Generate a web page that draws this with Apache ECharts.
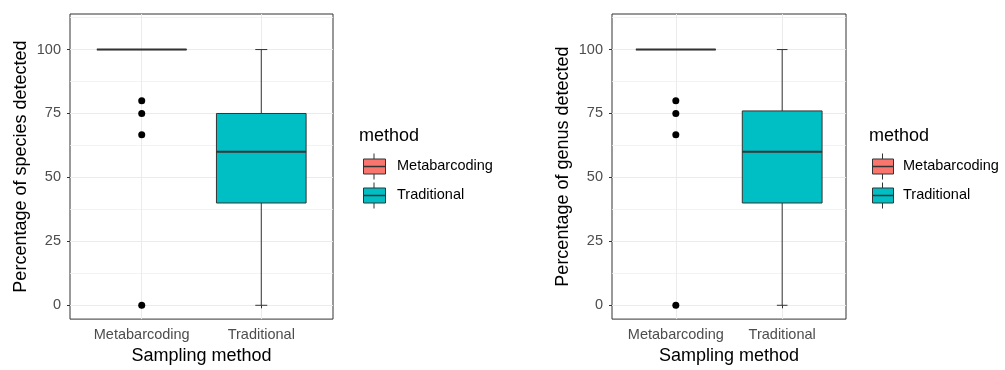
<!DOCTYPE html>
<html><head><meta charset="utf-8">
<script src="https://cdn.jsdelivr.net/npm/echarts@6/dist/echarts.min.js"></script>
<style>html,body{margin:0;padding:0;background:#fff}#c{width:1005px;height:370px}</style>
</head><body><div id="c"></div>
<script>
const categories = ['Metabarcoding', 'Traditional'];
const catPos = [1, 2];
// [min, q1, median, q3, max]
const speciesStats = [[100, 100, 100, 100, 100], [0, 40, 60, 75, 100]];
const genusStats = [[100, 100, 100, 100, 100], [0, 40, 60, 76, 100]];
const speciesOutliers = [80, 75, 66.7, 0];
const genusOutliers = [80, 75, 66.7, 0];
const yTicks = [0, 25, 50, 75, 100];
const yMinor = [12.5, 37.5, 62.5, 87.5, 112.5];
const colors = ['#F8766D', '#00BFC4'];
const yTitles = ['Percentage of species detected', 'Percentage of genus detected'];
const xTitle = 'Sampling method';
const legendTitle = 'method';

const FONT = 'Liberation Sans, Arial, sans-serif';
const chart = echarts.init(document.getElementById('c'), null, {renderer: 'canvas'});

const grids = [
  {left: 70, top: 14, width: 263, height: 308},
  {left: 612, top: 14, width: 234, height: 308}
];

function renderBox(params, api) {
  const x = api.value(0);
  const mn = api.value(1), q1 = api.value(2), md = api.value(3), q3 = api.value(4), mx = api.value(5);
  const boxHalf = 0.375, capHalf = 0.05;
  const P = (dx, v) => api.coord([x + dx, v]);
  const color = api.visual('color');
  const stroke = {stroke: '#333333', lineWidth: 1};
  const c = [];
  const a = P(0, mn), b = P(0, q1), d = P(0, q3), e = P(0, mx);
  if (q1 > mn) c.push({type: 'line', shape: {x1: a[0], y1: a[1], x2: b[0], y2: b[1]}, style: stroke});
  if (mx > q3) c.push({type: 'line', shape: {x1: d[0], y1: d[1], x2: e[0], y2: e[1]}, style: stroke});
  if (q1 > mn) { const l = P(-capHalf, mn), r = P(capHalf, mn); c.push({type: 'line', shape: {x1: l[0], y1: l[1], x2: r[0], y2: r[1]}, style: stroke}); }
  if (mx > q3) { const l = P(-capHalf, mx), r = P(capHalf, mx); c.push({type: 'line', shape: {x1: l[0], y1: l[1], x2: r[0], y2: r[1]}, style: stroke}); }
  const tl = P(-boxHalf, q3), br = P(boxHalf, q1);
  c.push({type: 'rect', shape: {x: tl[0], y: tl[1], width: br[0] - tl[0], height: br[1] - tl[1]}, style: {fill: color, stroke: '#333333', lineWidth: 1}});
  const ml = P(-boxHalf, md), mr = P(boxHalf, md);
  c.push({type: 'line', shape: {x1: ml[0], y1: ml[1], x2: mr[0], y2: mr[1]}, style: {stroke: '#333333', lineWidth: 2}});
  return {type: 'group', children: c};
}

const xAxes = [], yAxes = [], series = [];
[speciesStats, genusStats].forEach((stats, gi) => {
  xAxes.push({
    type: 'value', gridIndex: gi, min: 0.4, max: 2.6,
    axisLine: {show: false},
    axisTick: {show: true, length: 3, lineStyle: {color: '#333333'}, customValues: catPos},
    axisLabel: {customValues: catPos, color: '#4D4D4D', fontSize: 14.5, fontFamily: FONT, margin: 8,
      formatter: v => categories[Math.round(v) - 1] || ''},
    splitLine: {show: false},
    name: xTitle, nameLocation: 'middle', nameGap: 27,
    nameTextStyle: {color: '#000', fontSize: 18, fontFamily: FONT}
  });
  yAxes.push({
    type: 'value', gridIndex: gi, min: -5.4, max: 113.9,
    axisLine: {show: false},
    axisTick: {show: true, length: 3, lineStyle: {color: '#333333'}, customValues: yTicks},
    axisLabel: {customValues: yTicks, color: '#4D4D4D', fontSize: 14.5, fontFamily: FONT, margin: 9},
    splitLine: {show: false},
    name: yTitles[gi], nameLocation: 'middle', nameGap: 40,
    nameTextStyle: {color: '#000', fontSize: 18, fontFamily: FONT}
  });
  // grid lines
  const ml = [];
  yMinor.forEach(v => ml.push({yAxis: v, lineStyle: {color: '#F0F0F0', width: 0.8, type: 'solid'}}));
  yTicks.forEach(v => ml.push({yAxis: v, lineStyle: {color: '#EBEBEB', width: 1, type: 'solid'}}));
  catPos.forEach(v => ml.push({xAxis: v, lineStyle: {color: '#EBEBEB', width: 1, type: 'solid'}}));
  series.push({
    type: 'line', xAxisIndex: gi, yAxisIndex: gi, data: [], z: 0, silent: true,
    markLine: {silent: true, z: 0, zlevel: 0, symbol: 'none', label: {show: false}, animation: false, data: ml}
  });
  categories.forEach((cat, ci) => {
    series.push({
      type: 'custom', name: cat, xAxisIndex: gi, yAxisIndex: gi, z: 10,
      itemStyle: {color: colors[ci]},
      renderItem: renderBox,
      data: [[catPos[ci]].concat(stats[ci])]
    });
  });
  const outl = gi === 0 ? speciesOutliers : genusOutliers;
  series.push({
    type: 'scatter', xAxisIndex: gi, yAxisIndex: gi, z: 11, symbolSize: 7,
    itemStyle: {color: '#000', opacity: 1},
    data: outl.map(v => [catPos[0], v])
  });
});

// legend graphics
const graphic = [];
const legends = [{tx: 359, kx: 363, kw: 22, lx: 397}, {tx: 869, kx: 872, kw: 21, lx: 903}];
legends.forEach(L => {
  graphic.push({type: 'text', left: L.tx, top: 127, style: {text: legendTitle, fill: '#000', font: '18px ' + FONT}});
  categories.forEach((cat, ci) => {
    const cy = 166.5 + ci * 29;
    graphic.push({type: 'line', shape: {x1: L.kx + L.kw / 2, y1: cy - 13, x2: L.kx + L.kw / 2, y2: cy + 13}, style: {stroke: '#333333', lineWidth: 1}});
    graphic.push({type: 'rect', shape: {x: L.kx + 0.5, y: cy - 7.5, width: L.kw, height: 15}, style: {fill: colors[ci], stroke: '#333333', lineWidth: 1}});
    graphic.push({type: 'line', shape: {x1: L.kx + 0.5, y1: cy, x2: L.kx + L.kw + 0.5, y2: cy}, style: {stroke: '#333333', lineWidth: 1.5}});
    graphic.push({type: 'text', left: L.lx, top: cy - 8, style: {text: cat, fill: '#000', font: '14.5px ' + FONT}});
  });
});

chart.setOption({
  animation: false,
  backgroundColor: '#fff',
  grid: grids.map(g => Object.assign({show: true, borderColor: '#333333', borderWidth: 1, backgroundColor: 'transparent'}, g)),
  xAxis: xAxes, yAxis: yAxes, series: series, graphic: graphic
});
</script></body></html>
